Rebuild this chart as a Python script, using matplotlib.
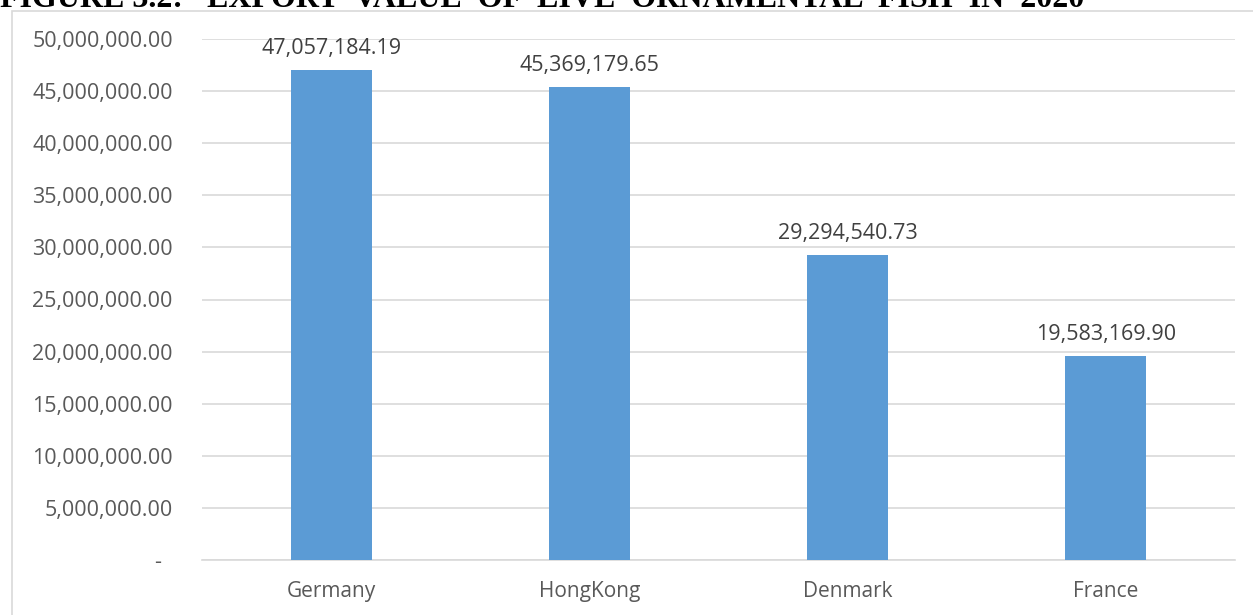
import matplotlib.pyplot as plt
from matplotlib.patches import Rectangle
from matplotlib.ticker import FuncFormatter

countries = ['Germany', 'HongKong', 'Denmark', 'France']
export_values = [47057184.19, 45369179.65, 29294540.73, 19583169.90]
y_ticks = [0, 5e6, 10e6, 15e6, 20e6, 25e6, 30e6, 35e6, 40e6, 45e6, 50e6]

bar_color = '#5b9bd5'
text_color = '#595959'
grid_color = '#d9d9d9'

plt.rcParams['font.family'] = ['Open Sans', 'DejaVu Sans']

def money(v, pos=None):
    if v == 0:
        return '-  '
    return f'{v:,.2f}'

fig = plt.figure(figsize=(12.53, 6.15), dpi=100)

# chart frame, runs off the right and bottom edge
W, H = 1253, 615
fig.patches.append(Rectangle((12 / W, -0.1), 1.2, 1 - 11 / H + 0.1, transform=fig.transFigure,
                             fill=False, edgecolor=grid_color, linewidth=1.2))

fig.text(0.0, 1 - 7 / H, 'FIGURE 3.2:   EXPORT  VALUE  OF  LIVE  ORNAMENTAL  FISH  IN  2020',
         family='Liberation Serif', fontweight='bold', fontsize=23, color='black',
         ha='left', va='baseline')

ax = fig.add_axes([202 / W, 1 - 560 / H, (1235 - 202) / W, (560 - 39) / H])
x = range(len(countries))
bars = ax.bar(x, export_values, width=0.314, color=bar_color, zorder=3)

for b, v in zip(bars, export_values):
    ax.annotate(money(v), (b.get_x() + b.get_width() / 2, v), xytext=(0, 11),
                textcoords='offset pixels', ha='center', va='bottom',
                fontsize=15.5, color='#404040')

ax.set_xlim(-0.5, len(countries) - 0.5)
ax.set_ylim(0, 50e6)
ax.set_yticks(y_ticks)
ax.yaxis.set_major_formatter(FuncFormatter(money))
ax.set_xticks(list(x))
ax.set_xticklabels(countries)

ax.grid(axis='y', color=grid_color, linewidth=1.2, zorder=0)
for s in ['top', 'right', 'left']:
    ax.spines[s].set_visible(False)
ax.spines['bottom'].set_color(grid_color)
ax.spines['bottom'].set_linewidth(1.2)
ax.tick_params(axis='both', length=0, labelcolor=text_color)
ax.tick_params(axis='y', pad=21, labelsize=15.5)
ax.tick_params(axis='x', pad=15, labelsize=15)

fig.savefig('out.png', dpi=100)
